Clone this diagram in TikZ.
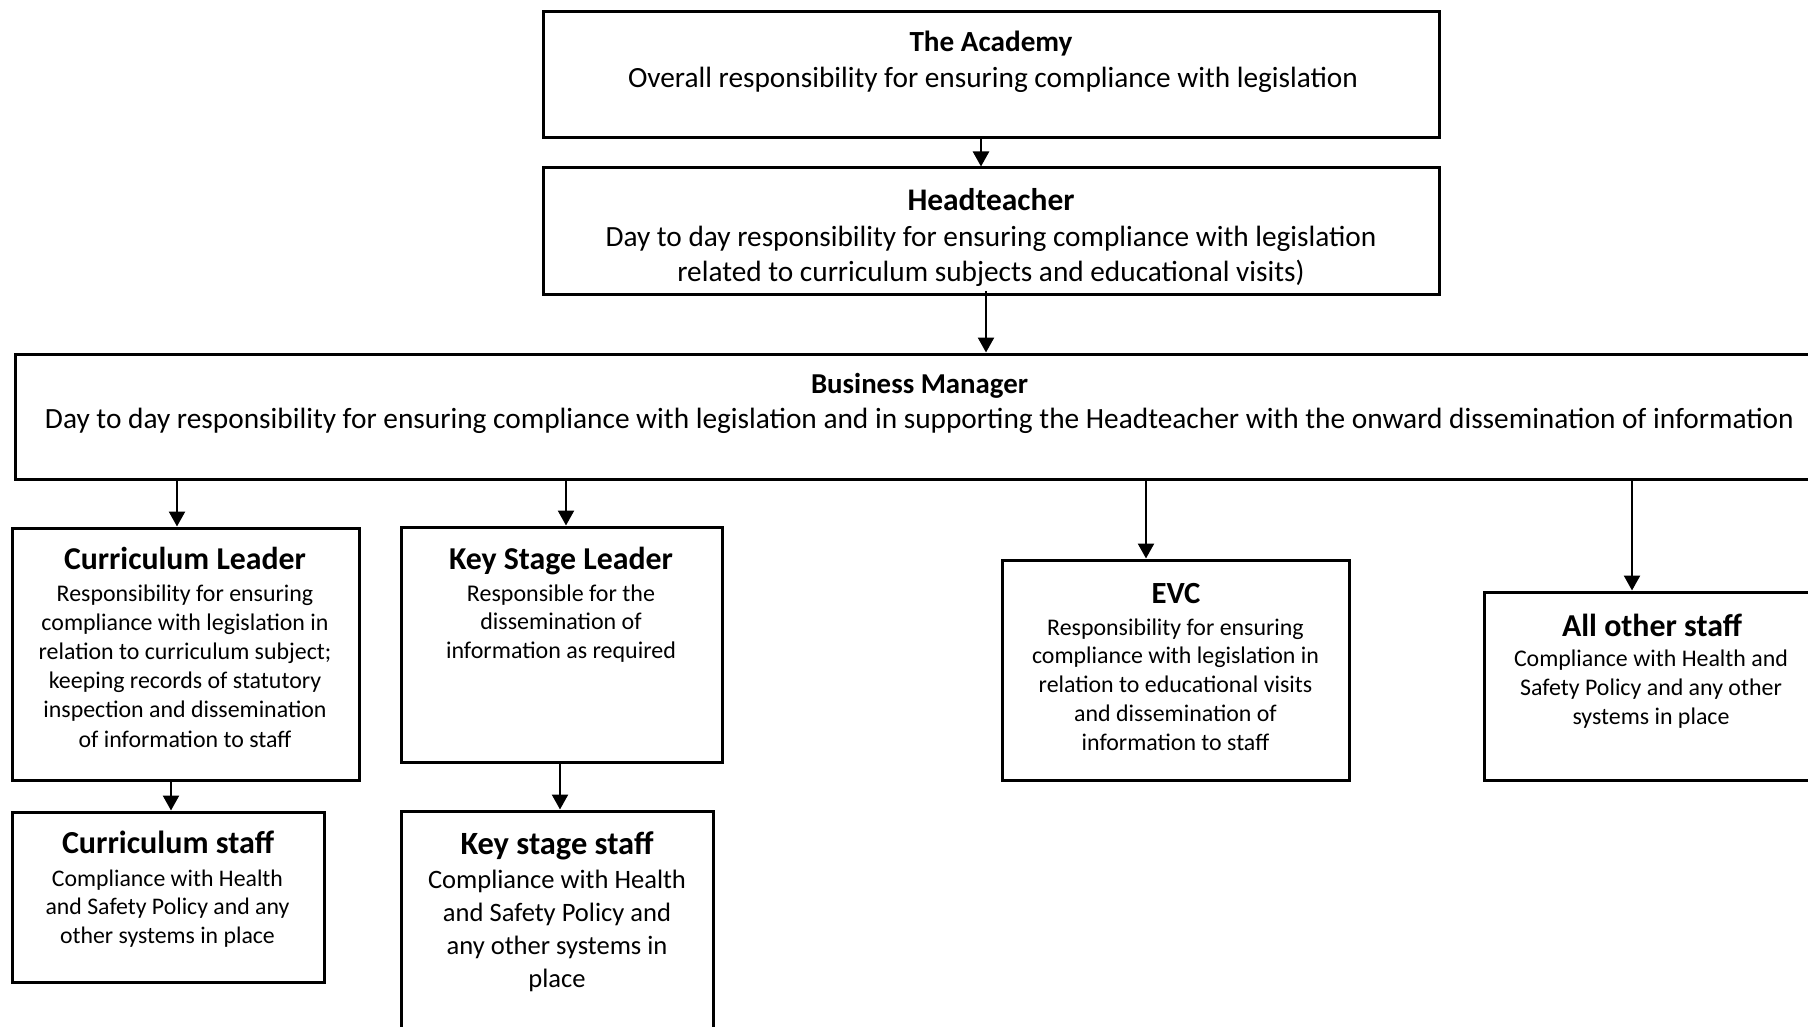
\documentclass[tikz,border=0pt]{standalone}
\usepackage{fontspec}
\setmainfont{Carlito}
\usetikzlibrary{arrows.meta}
\newlength\fitw
\newcommand\fitfs[4]{\settowidth\fitw{\normalfont\fontsize{10}{12}\selectfont#3#4}\pgfmathsetmacro#1{(#2/\fitw)*10}}
\newcommand\bodytext[4]{\parbox[t]{#1pt}{\centering\fontsize{#2}{#3}\selectfont #4}}
\tikzset{
  box/.style={draw=black, line width=3pt, fill=white, rectangle, inner sep=0pt},
  ttl/.style={anchor=base, inner sep=0pt},
  bdy/.style={anchor=base, inner sep=0pt},
  arr/.style={draw=black, line width=2.4pt, -{Triangle[length=15pt,width=16pt]}}
}
\begin{document}
\fitfs\fACAt{163}{\bfseries}{The Academy}%
\fitfs\fACAb{730}{}{Overall responsibility for ensuring compliance with legislation}%
\fitfs\fHTt{167}{\bfseries}{Headteacher}%
\fitfs\fHTb{771}{}{Day to day responsibility for ensuring compliance with legislation}%
\fitfs\fBMt{217}{\bfseries}{Business Manager}%
\fitfs\fBMb{1749}{}{Day to day responsibility for ensuring compliance with legislation and in supporting the Headteacher with the onward dissemination of information}%
\fitfs\fCLt{242}{\bfseries}{Curriculum Leader}%
\fitfs\fCLb{287}{}{compliance with legislation in}%
\fitfs\fKSLt{224}{\bfseries}{Key Stage Leader}%
\fitfs\fKSLb{230}{}{information as required}%
\fitfs\fEVCt{49}{\bfseries}{EVC}%
\fitfs\fEVCb{287}{}{compliance with legislation in}%
\fitfs\fAOSt{180}{\bfseries}{All other staff}%
\fitfs\fAOSb{274}{}{Compliance with Health and}%
\fitfs\fCSt{212}{\bfseries}{Curriculum staff}%
\fitfs\fCSb{231}{}{Compliance with Health}%
\fitfs\fKSSt{193}{\bfseries}{Key stage staff}%
\fitfs\fKSSb{258}{}{Compliance with Health}%
\begin{tikzpicture}[x=1pt,y=-1pt]
\fill[white] (0,0) rectangle (1808,1027);
\useasboundingbox (0,0) rectangle (1808,1027);

% boxes
\node[box, minimum width=896pt, minimum height=126pt] (ACA) at (991,75) {};
\node[box, minimum width=896pt, minimum height=126pt] (HT) at (991,231) {};
\node[box, minimum width=1810pt, minimum height=125pt] (BM) at (920,416.5) {};
\node[box, minimum width=347pt, minimum height=252pt] (CL) at (185.5,654) {};
\node[box, minimum width=321pt, minimum height=235pt] (KSL) at (561.5,644.5) {};
\node[box, minimum width=347pt, minimum height=220pt] (EVC) at (1175.5,670) {};
\node[box, minimum width=334pt, minimum height=188pt] (AOS) at (1651,686) {};
\node[box, minimum width=312pt, minimum height=170pt] (CS) at (168,897) {};
\node[box, minimum width=312pt, minimum height=234pt] (KSS) at (557,928) {};

% texts
\node[ttl, font=\fontsize{\fACAt}{20}\selectfont\bfseries] (ACAt) at (991,52) {The Academy};
\node[bdy] (ACAb) at (993,88) {\bodytext{900}{\fACAb}{34}{Overall responsibility for ensuring compliance with legislation}};

\node[ttl, font=\fontsize{\fHTt}{20}\selectfont\bfseries] (HTt) at (991,211) {Headteacher};
\node[bdy] (HTb) at (991,247) {\bodytext{900}{\fHTb}{35}{Day to day responsibility for ensuring compliance with legislation\\related to curriculum subjects and educational visits)}};

\node[ttl, font=\fontsize{\fBMt}{20}\selectfont\bfseries] (BMt) at (919.5,393) {Business Manager};
\node[bdy] (BMb) at (919.5,428) {\bodytext{1800}{\fBMb}{30}{Day to day responsibility for ensuring compliance with legislation and in supporting the Headteacher with the onward dissemination of information}};

\node[ttl, font=\fontsize{\fCLt}{20}\selectfont\bfseries] (CLt) at (185,569) {Curriculum Leader};
\node[bdy] (CLb) at (185,601) {\bodytext{400}{\fCLb}{29.2}{Responsibility for ensuring\\compliance with legislation in\\relation to curriculum subject;\\keeping records of statutory\\inspection and dissemination\\of information to staff}};

\node[ttl, font=\fontsize{\fKSLt}{20}\selectfont\bfseries] (KSLt) at (561,569) {Key Stage Leader};
\node[bdy] (KSLb) at (561,601) {\bodytext{400}{\fKSLb}{28.8}{Responsible for the\\dissemination of\\information as required}};

\node[ttl, font=\fontsize{\fEVCt}{20}\selectfont\bfseries] (EVCt) at (1176,603) {EVC};
\node[bdy] (EVCb) at (1175.5,635) {\bodytext{400}{\fEVCb}{28.8}{Responsibility for ensuring\\compliance with legislation in\\relation to educational visits\\and dissemination of\\information to staff}};

\node[ttl, font=\fontsize{\fAOSt}{20}\selectfont\bfseries] (AOSt) at (1652,636) {All other staff};
\node[bdy] (AOSb) at (1651,666) {\bodytext{400}{\fAOSb}{29.4}{Compliance with Health and\\Safety Policy and any other\\systems in place}};

\node[ttl, font=\fontsize{\fCSt}{20}\selectfont\bfseries] (CSt) at (168,853) {Curriculum staff};
\node[bdy] (CSb) at (167.5,886) {\bodytext{400}{\fCSb}{28.8}{Compliance with Health\\and Safety Policy and any\\other systems in place}};

\node[ttl, font=\fontsize{\fKSSt}{20}\selectfont\bfseries] (KSSt) at (557,854) {Key stage staff};
\node[bdy] (KSSb) at (557,888) {\bodytext{400}{\fKSSb}{33}{Compliance with Health\\and Safety Policy and\\any other systems in\\place}};

% connectors
\draw[arr] ([xshift=-10pt]ACA.south) coordinate (a1) -- (a1 |- HT.north);
\draw[arr] ([xshift=-5pt,yshift=4pt]HT.south) coordinate (a2) -- (a2 |- BM.north);
\path ([xshift=-8.5pt]CL.north) coordinate (tCL);
\draw[arr] (BM.south -| tCL) -- (tCL);
\path ([xshift=4.5pt]KSL.north) coordinate (tKSL);
\draw[arr] (BM.south -| tKSL) -- (tKSL);
\path ([xshift=-29.5pt]EVC.north) coordinate (tEVC);
\draw[arr] (BM.south -| tEVC) -- (tEVC);
\path ([xshift=-19pt]AOS.north) coordinate (tAOS);
\draw[arr] (BM.south -| tAOS) -- (tAOS);
\path ([xshift=3pt]CS.north) coordinate (tCS);
\draw[arr] (CL.south -| tCS) -- (tCS);
\path ([xshift=3pt]KSS.north) coordinate (tKSS);
\draw[arr] (KSL.south -| tKSS) -- (tKSS);
\end{tikzpicture}
\end{document}
